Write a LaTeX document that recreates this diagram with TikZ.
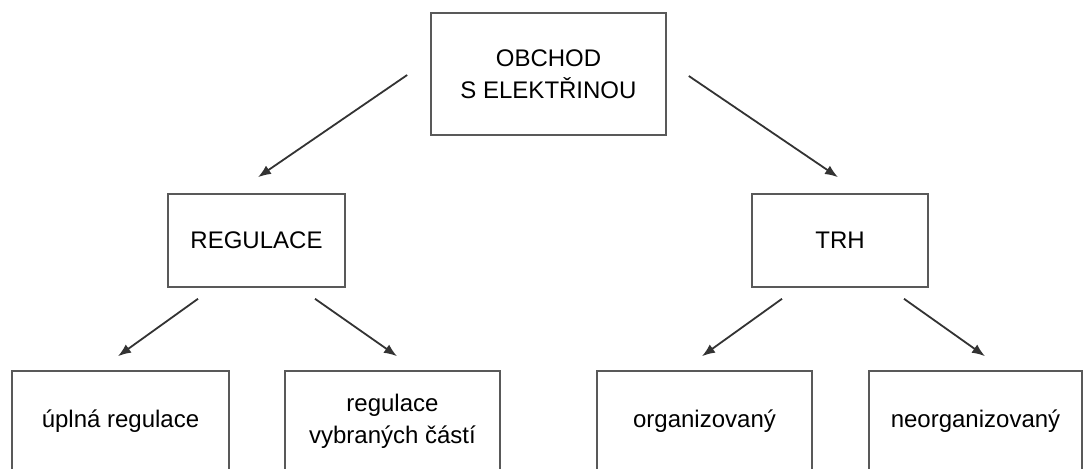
\documentclass[tikz,border=0pt]{standalone}
\usepackage{fontspec}
\setmainfont{Liberation Sans}
\usetikzlibrary{arrows.meta}

\begin{document}
\begin{tikzpicture}[x=0.5pt,y=-0.5pt,
  every node/.style={font=\fontsize{12}{16}\selectfont,align=center,inner sep=0pt},
  box/.style={draw=black!65,line width=0.8pt,fill=white},
  arr/.style={draw=black!80,line width=0.9pt,-{Latex[length=6.5pt,width=5pt]}}]
\useasboundingbox (0,0) rectangle (1083,469);
\clip (0,0) rectangle (1083,469);
\node[box,minimum width=117.5pt,minimum height=61pt] (obchod) at (548.5,74) {OBCHOD\\S ELEKTŘINOU};
\node[box,minimum width=88.5pt,minimum height=46.5pt] (regulace) at (256.5,240.5) {REGULACE};
\node[box,minimum width=88pt,minimum height=46.5pt] (trh) at (840,240.5) {TRH};
\node[box,minimum width=108.5pt,minimum height=50.5pt] (uplna) at (120.5,421.5) {úplná regulace};
\node[box,minimum width=107.5pt,minimum height=50.5pt] (vybrane) at (392.5,421.5) {regulace\\vybraných částí};
\node[box,minimum width=107.5pt,minimum height=50.5pt] (org) at (704.5,421.5) {organizovaný};
\node[box,minimum width=106.5pt,minimum height=50.5pt] (neorg) at (975.5,421.5) {neorganizovaný};
\draw[arr] ([shift={(-23,1)}]obchod.west) -- ([shift={(1.5,-16)}]regulace.north);
\draw[arr] ([shift={(22,2)}]obchod.east) -- ([shift={(-2,-16)}]trh.north);
\draw[arr] ([shift={(-58.5,11)}]regulace.south) -- ([shift={(-2.5,-14)}]uplna.north);
\draw[arr] ([shift={(58.5,11)}]regulace.south) -- ([shift={(4.5,-14)}]vybrane.north);
\draw[arr] ([shift={(-58,11)}]trh.south) -- ([shift={(-2.5,-14)}]org.north);
\draw[arr] ([shift={(64,11)}]trh.south) -- ([shift={(9.5,-14)}]neorg.north);
\end{tikzpicture}
\end{document}
